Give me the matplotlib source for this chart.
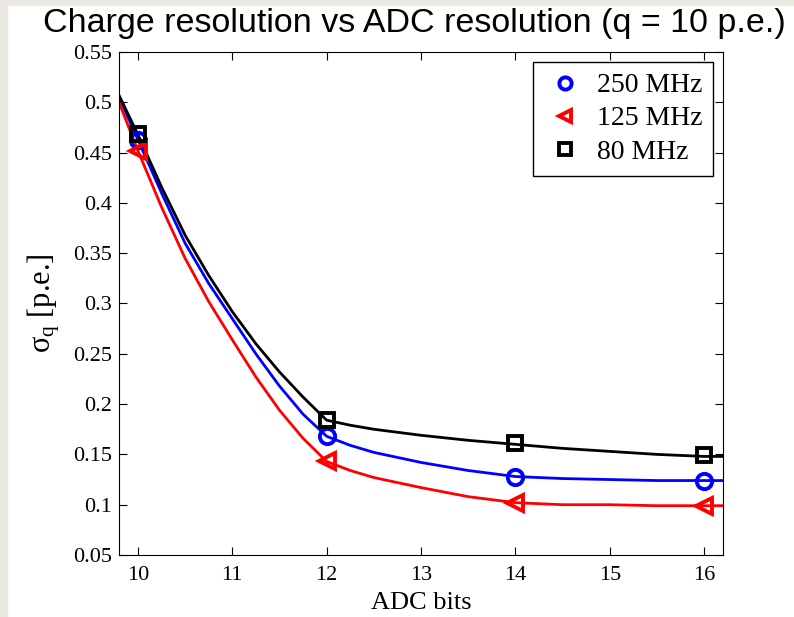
import matplotlib
matplotlib.use("Agg")
import matplotlib.pyplot as plt
from matplotlib.patches import Rectangle

# measured points (sigma_q in p.e. vs ADC bits)
bits = [10, 12, 14, 16]
sig_250 = [0.463, 0.168, 0.128, 0.124]
sig_125 = [0.452, 0.143, 0.102, 0.099]
sig_80 = [0.468, 0.184, 0.161, 0.149]

# fitted curves
curve_x = [9.8, 10.0, 10.25, 10.5, 10.75, 11.0, 11.25, 11.5, 11.75, 12.0,
           12.25, 12.5, 12.75, 13.0, 13.5, 14.0, 14.5, 15.0, 15.5, 16.0, 16.2]
curve_250 = [0.505, 0.463, 0.410, 0.360, 0.320, 0.285, 0.250, 0.218, 0.190, 0.168,
             0.159, 0.152, 0.147, 0.142, 0.134, 0.128, 0.126, 0.125, 0.124, 0.124, 0.124]
curve_125 = [0.500, 0.452, 0.396, 0.345, 0.302, 0.264, 0.227, 0.194, 0.166, 0.143,
             0.134, 0.127, 0.122, 0.117, 0.108, 0.102, 0.100, 0.100, 0.099, 0.099, 0.099]
curve_80 = [0.507, 0.468, 0.416, 0.368, 0.328, 0.292, 0.260, 0.232, 0.207, 0.184,
            0.179, 0.175, 0.172, 0.169, 0.164, 0.160, 0.156, 0.153, 0.150, 0.148, 0.148]

labels = ["250 MHz", "125 MHz", "80 MHz"]

plt.rcParams['font.family'] = ['Liberation Serif', 'DejaVu Serif']
plt.rcParams['mathtext.fontset'] = 'custom'
plt.rcParams['mathtext.rm'] = 'Liberation Serif'
plt.rcParams['mathtext.it'] = 'Liberation Serif'

fig = plt.figure(figsize=(7.94, 6.17), dpi=100)
fig.patches.append(Rectangle((0, 0), 7 / 794, 1, transform=fig.transFigure,
                             color='#ebe8e3', zorder=0))
fig.patches.append(Rectangle((0, 1 - 5 / 617), 1, 5 / 617, transform=fig.transFigure,
                             color='#ebe8e3', zorder=0))
ax = fig.add_axes([119 / 794, 1 - 555 / 617, (723 - 119) / 794, (555 - 52) / 617])

ax.plot(curve_x, curve_250, color='#0000ff', lw=2)
ax.plot(curve_x, curve_125, color='#ff0000', lw=2)
ax.plot(curve_x, curve_80, color='black', lw=2)

mk = dict(ms=11, mew=2.8, mfc='none', ls='none')
ax.plot(bits, sig_250, 'o', color='#0000ff', label=labels[0], **mk)
ax.plot(bits, sig_125, '<', color='#ff0000', label=labels[1], **mk)
ax.plot(bits, sig_80, 's', color='black', label=labels[2], ms=10, mew=2.8, mfc='none', ls='none')

ax.set_xlim(9.8, 16.2)
ax.set_ylim(0.05, 0.55)
ax.set_xticks(range(10, 17))
ax.set_yticks([0.05, 0.1, 0.15, 0.2, 0.25, 0.3, 0.35, 0.4, 0.45, 0.5, 0.55])
ax.set_yticklabels(['0.05', '0.1', '0.15', '0.2', '0.25', '0.3', '0.35', '0.4',
                    '0.45', '0.5', '0.55'])
ax.tick_params(direction='in', length=6, top=True, right=True, labelsize=16)
ax.tick_params(axis='x', pad=8)
ax.tick_params(axis='y', pad=5)

ax.set_xlabel("ADC bits", fontsize=19, labelpad=5)
ax.set_ylabel(r"σ$_{\mathrm{q}}$ [p.e.]", fontsize=22, labelpad=8)
fig.text(0.522, 1 - 32 / 617, "Charge resolution vs ADC resolution (q = 10 p.e.)",
         family=['Liberation Sans'], fontsize=24.5, ha='center', va='baseline')

leg = ax.legend(loc='upper right', fontsize=20, fancybox=False, edgecolor='black',
                framealpha=1, handletextpad=0.4, borderaxespad=0.35, labelspacing=0.28,
                handlelength=1.5, markerscale=0.8, borderpad=0.4)
leg.get_frame().set_linewidth(1)

fig.savefig("out.png", dpi=100)
